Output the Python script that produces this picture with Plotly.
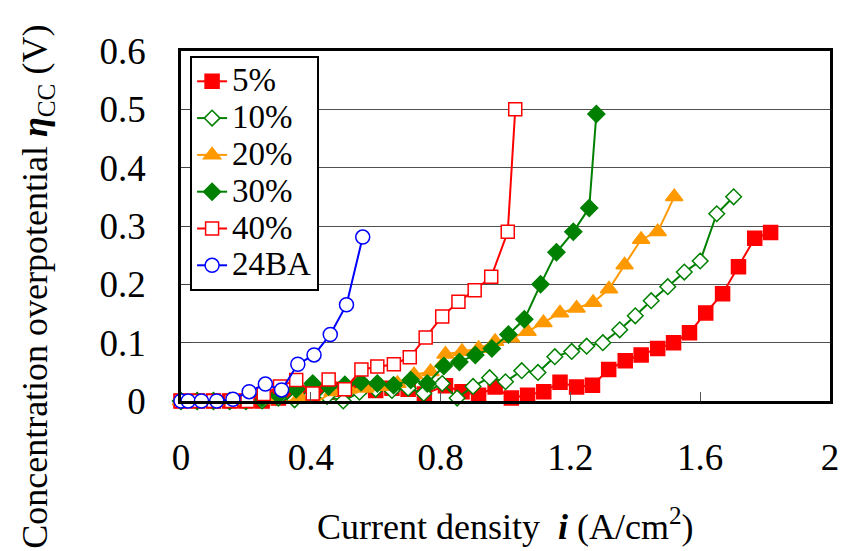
import plotly.graph_objects as go

# ---- data ----
x_5 = [0, 0.05, 0.1, 0.15, 0.2, 0.25, 0.3, 0.35, 0.4, 0.45, 0.5, 0.55, 0.6, 0.65, 0.7, 0.75,
       0.815, 0.866, 0.917, 0.968, 1.018, 1.068, 1.118, 1.168, 1.219, 1.268, 1.318, 1.369,
       1.418, 1.469, 1.518, 1.567, 1.617, 1.669, 1.718, 1.768, 1.817]
y_5 = [0, 0, 0, 0, 0, 0, 0.005, 0.01, 0.012, 0.015, 0.02, 0.025, 0.018, 0.022, 0.02, 0.012,
       0.026, 0.016, 0.01, 0.024, 0.005, 0.01, 0.016, 0.032, 0.024, 0.027, 0.054, 0.069,
       0.079, 0.09, 0.1, 0.117, 0.151, 0.184, 0.23, 0.279, 0.289]

x_10 = [0, 0.05, 0.1, 0.15, 0.2, 0.25, 0.3, 0.35, 0.4, 0.45, 0.5, 0.55, 0.6, 0.65, 0.7, 0.748,
        0.805, 0.851, 0.9, 0.951, 1.0, 1.05, 1.1, 1.152, 1.204, 1.25, 1.3, 1.352, 1.4, 1.449,
        1.5, 1.551, 1.6, 1.651, 1.703]
y_10 = [0, 0, 0, 0, 0, 0, 0.005, 0.002, 0.01, 0.008, 0.0, 0.015, 0.02, 0.018, 0.022, 0.013,
        0.03, 0.005, 0.025, 0.04, 0.033, 0.052, 0.049, 0.076, 0.085, 0.094, 0.1, 0.122, 0.146,
        0.172, 0.196, 0.221, 0.24, 0.321, 0.35]

x_20 = [0, 0.05, 0.1, 0.15, 0.2, 0.265, 0.315, 0.365, 0.416, 0.467, 0.517, 0.567, 0.617, 0.667,
        0.718, 0.769, 0.815, 0.866, 0.917, 0.968, 1.017, 1.068, 1.117, 1.168, 1.219, 1.27,
        1.319, 1.367, 1.418, 1.469, 1.52]
y_20 = [0, 0, 0, 0, 0, 0.002, -0.004, 0.007, -0.003, 0.016, 0.02, 0.022, 0.025, 0.03, 0.045,
        0.05, 0.08, 0.085, 0.09, 0.102, 0.108, 0.119, 0.134, 0.151, 0.159, 0.169, 0.192, 0.233,
        0.277, 0.29, 0.35]

x_30 = [0, 0.05, 0.1, 0.15, 0.2, 0.25, 0.3, 0.355, 0.406, 0.455, 0.505, 0.555, 0.605, 0.655,
        0.708, 0.759, 0.81, 0.858, 0.907, 0.958, 1.009, 1.058, 1.108, 1.157, 1.209, 1.258, 1.28]
y_30 = [0, 0, 0, 0, 0, 0.005, 0.01, 0.02, 0.03, 0.025, 0.028, 0.032, 0.03, 0.027, 0.036, 0.03,
        0.06, 0.067, 0.079, 0.09, 0.114, 0.14, 0.2, 0.255, 0.29, 0.331, 0.492]

x_40 = [0, 0.05, 0.1, 0.155, 0.205, 0.255, 0.305, 0.355, 0.406, 0.455, 0.505, 0.556, 0.605,
        0.656, 0.705, 0.754, 0.805, 0.855, 0.905, 0.956, 1.007, 1.03]
y_40 = [0, 0, 0, 0, 0, 0.012, 0.025, 0.036, 0.013, 0.037, 0.02, 0.054, 0.059, 0.063, 0.075,
        0.109, 0.145, 0.17, 0.19, 0.213, 0.29, 0.5]

x_ba = [0, 0.022, 0.063, 0.11, 0.16, 0.21, 0.26, 0.31, 0.36, 0.41, 0.46, 0.51, 0.56]
y_ba = [0, 0, 0, 0, 0.003, 0.016, 0.029, 0.019, 0.063, 0.079, 0.114, 0.165, 0.281]

series_names = ["5%", "10%", "20%", "30%", "40%", "24BA"]
x_ticks = [0, 0.4, 0.8, 1.2, 1.6, 2]
x_ticktext = ["0", "0.4", "0.8", "1.2", "1.6", "2"]
y_ticks = [0, 0.1, 0.2, 0.3, 0.4, 0.5, 0.6]
y_ticktext = ["0", "0.1", "0.2", "0.3", "0.4", "0.5", "0.6"]

FONT = "Liberation Serif, Times New Roman, serif"
RED, GREEN, ORANGE, BLUE = "#FF0000", "#008000", "#FF9900", "#0000FF"

styles = [
    dict(color=RED, symbol="square", fill=RED, size=14),
    dict(color=GREEN, symbol="diamond", fill="white", size=12),
    dict(color=ORANGE, symbol="triangle-up", fill=ORANGE, size=15),
    dict(color=GREEN, symbol="diamond", fill=GREEN, size=13),
    dict(color=RED, symbol="square", fill="white", size=13),
    dict(color=BLUE, symbol="circle", fill="white", size=14),
]
xs = [x_5, x_10, x_20, x_30, x_40, x_ba]
ys = [y_5, y_10, y_20, y_30, y_40, y_ba]

fig = go.Figure()
for name, x, y, st in zip(series_names, xs, ys, styles):
    fig.add_trace(go.Scatter(
        x=x, y=y, mode="lines+markers",
        name=f'<span style="font-size:33px">{name}</span>',
        line=dict(color=st["color"], width=2),
        marker=dict(symbol=st["symbol"], size=st["size"], color=st["fill"],
                    line=dict(color=st["color"], width=1.5)),
        cliponaxis=False,
    ))

fig.update_layout(
    width=851, height=551,
    margin=dict(l=181, r=18, t=51, b=150),
    paper_bgcolor="white", plot_bgcolor="white",
    font=dict(family=FONT, size=36, color="black"),
    showlegend=True,
    legend=dict(
        x=0.014, y=0.986, xanchor="left", yanchor="top",
        bgcolor="white", bordercolor="black", borderwidth=2,
        font=dict(family=FONT, size=26, color="black"),
        itemwidth=30, tracegroupgap=0,
    ),
    xaxis=dict(
        range=[0, 2], tickvals=x_ticks, ticktext=x_ticktext,
        showgrid=False, zeroline=False,
        showline=True, linecolor="black", linewidth=2.5, mirror=True,
        ticks="inside", ticklen=9, tickcolor="#555555", tickwidth=1,
        tickfont=dict(family=FONT, size=37), ticklabelstandoff=22,
    ),
    yaxis=dict(
        range=[0, 0.6], tickvals=y_ticks, ticktext=y_ticktext,
        showgrid=True, gridcolor="#505050", gridwidth=1.2, zeroline=False,
        showline=True, linecolor="black", linewidth=2.5, mirror=True,
        ticks="inside", ticklen=10, tickcolor="#444444", tickwidth=1,
        tickfont=dict(family=FONT, size=37), ticklabelstandoff=25,
    ),
    annotations=[
        dict(text="Current density  <b><i>i</i></b> (A/cm<sup>2</sup>)",
             xref="paper", yref="paper", x=0.5, y=-0.354, xanchor="center", yanchor="middle",
             showarrow=False, font=dict(family=FONT, size=36)),
        dict(text="Concentration overpotential <b><i>η</i></b><sub>CC</sub> (V)",
             xref="paper", yref="paper", x=-0.221, y=0.325, xanchor="center", yanchor="middle",
             textangle=-90, showarrow=False, font=dict(family=FONT, size=36)),
    ],
)

fig.write_html("out.html")
